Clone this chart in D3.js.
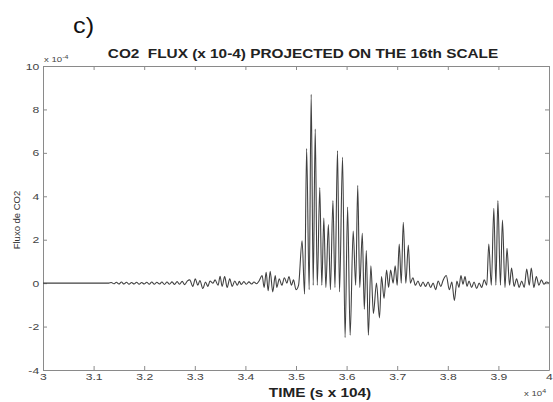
<!DOCTYPE html>
<html>
<head>
<meta charset="utf-8">
<script src="https://cdn.jsdelivr.net/npm/d3@7"></script>
<style>
  body { margin: 0; background: #fff; }
  svg { display: block; font-family: "Liberation Sans", Arial, sans-serif; }
</style>
</head>
<body>
<script>
// time in units of 10^4 s, flux in units of 10^-4 (peaks and troughs)
const time = [
  3.000, 3.130,
  3.135, 3.140, 3.145, 3.150, 3.155, 3.160, 3.165, 3.170, 3.175, 3.180, 3.185, 3.190, 3.195, 3.200,
  3.205, 3.210, 3.215, 3.220, 3.225, 3.230, 3.235, 3.240, 3.245, 3.250, 3.255, 3.260, 3.265, 3.270,
  3.275, 3.280, 3.285,
  3.290, 3.296, 3.301, 3.306, 3.310, 3.316, 3.321, 3.326, 3.330, 3.336, 3.340, 3.346, 3.350, 3.354,
  3.359, 3.364, 3.369, 3.374, 3.379, 3.384, 3.388, 3.392, 3.397, 3.402, 3.407, 3.412, 3.417, 3.422, 3.427,
  3.433, 3.437, 3.441, 3.445, 3.449, 3.454, 3.459, 3.462, 3.467, 3.472, 3.477, 3.482, 3.486, 3.491,
  3.495, 3.500, 3.505,
  3.512, 3.517, 3.521, 3.526, 3.530, 3.534, 3.538, 3.542, 3.547, 3.551, 3.555, 3.559, 3.564, 3.568,
  3.573, 3.577, 3.582, 3.586, 3.592, 3.597, 3.602, 3.607, 3.613, 3.618, 3.622, 3.626, 3.631, 3.635,
  3.639, 3.643, 3.648, 3.653, 3.659, 3.665, 3.669, 3.674, 3.679, 3.683, 3.687, 3.692, 3.696, 3.700,
  3.704, 3.708, 3.712, 3.717, 3.722, 3.726, 3.731, 3.736,
  3.741, 3.746, 3.751, 3.756, 3.761, 3.766, 3.771, 3.776, 3.781, 3.786, 3.791, 3.797, 3.803, 3.808,
  3.813, 3.818, 3.822, 3.826, 3.830, 3.834, 3.838, 3.842, 3.847, 3.852, 3.857, 3.862, 3.867, 3.872, 3.877,
  3.881, 3.886, 3.891, 3.895, 3.899, 3.904, 3.908, 3.913, 3.917, 3.922, 3.926, 3.931, 3.936, 3.941,
  3.946, 3.951, 3.956, 3.961, 3.965, 3.970, 3.975, 3.980, 3.985, 3.990, 3.995, 4.000
];
const flux = [
  0, 0,
  0.03, -0.03, 0.04, -0.04, 0.05, -0.04, 0.04, -0.05, 0.03, -0.04, 0.04, -0.05, 0.03, -0.04,
  0.04, -0.05, 0.05, -0.05, 0.04, -0.04, 0.05, -0.06, 0.05, -0.05, 0.06, -0.06, 0.07, -0.05,
  0.08, -0.07, 0.09,
  0.15, -0.15, 0.2, -0.1, 0.12, -0.25, 0.05, -0.15, 0.1, 0.0, 0.15, -0.1, 0.32, -0.15,
  0.3, -0.2, 0.2, -0.15, 0.1, -0.1, 0.08, -0.06, 0.07, -0.05, 0.06, -0.04, 0.05, -0.03, 0.1,
  0.35, -0.2, 0.5, -0.35, 0.55, -0.4, 0.35, -0.2, 0.2, -0.1, 0.25, 0.0, 0.3, -0.1,
  0.15, -0.3, -0.1,
  1.95, -0.5, 6.2, -0.3, 8.7, -0.1, 7.1, -0.1, 4.4, -0.1, 3.0, -0.2, 2.7, -0.3,
  3.8, -0.2, 6.1, -0.4, 5.8, -2.5, 3.5, -2.4, 2.4, -0.1, 4.5, -0.2, 2.3, -1.2,
  1.5, -2.4, 0.8, -1.4, 0.0, -1.6, 0.3, -0.7, 0.6, -0.2, 0.6, 0.0, 0.8, -0.1,
  1.8, 0.0, 2.8, 0.0, 1.75, 0.0, 0.25, -0.1,
  0.1, -0.15, 0.05, -0.15, 0.05, -0.2, 0.0, -0.3, 0.1, -0.15, 0.15, 0.35, -0.3, 0.05,
  -0.8, 0.1, -0.2, 0.35, -0.05, 0.3, -0.15, 0.1, -0.2, 0.05, -0.25, 0.0, -0.2, 0.15, -0.1,
  1.8, -0.1, 3.45, -0.1, 3.8, -0.1, 2.9, -0.2, 1.6, -0.1, 0.7, -0.15, 0.2, -0.2,
  0.1, -0.2, 0.65, -0.1, 0.7, -0.2, 0.3, -0.1, 0.15, -0.05, 0.05, 0
];
const xTicks = [3, 3.1, 3.2, 3.3, 3.4, 3.5, 3.6, 3.7, 3.8, 3.9, 4];
const xTickLabels = ["3", "3.1", "3.2", "3.3", "3.4", "3.5", "3.6", "3.7", "3.8", "3.9", "4"];
const yTicks = [-4, -2, 0, 2, 4, 6, 8, 10];
const yTickLabels = ["-4", "-2", "0", "2", "4", "6", "8", "10"];

const points = time.map((t, i) => ({ t: t, v: flux[i] }));

const width = 553, height = 402;
const margin = { top: 66, right: 4, bottom: 32, left: 43 };
const stretch = 1.28; // the original figure is drawn a bit wide

const svg = d3.select("body").append("svg")
    .attr("width", width)
    .attr("height", height);

const x = d3.scaleLinear().domain([3, 4]).range([margin.left, width - margin.right]);
const y = d3.scaleLinear().domain([-4, 10]).range([height - margin.bottom, margin.top]);

// axes, MATLAB style box with inward ticks
const axisColor = "#8a8a8a";
function styleAxis(g) {
  g.selectAll("path, line").attr("stroke", axisColor);
  g.selectAll("text").attr("fill", "#444").style("font-size", "9.5px");
}

const xAxisG = svg.append("g")
    .attr("transform", `translate(0,${y(-4)})`)
    .call(d3.axisBottom(x).tickValues(xTicks).tickFormat((d, i) => xTickLabels[i]).tickSizeInner(-4).tickSizeOuter(0).tickPadding(3))
    .call(styleAxis);
xAxisG.selectAll(".tick text").attr("transform", `scale(${stretch},1)`);

svg.append("g")
    .attr("transform", `translate(0,${y(10)})`)
    .call(d3.axisTop(x).tickValues(xTicks).tickFormat("").tickSizeInner(-4).tickSizeOuter(0))
    .call(styleAxis);

const yAxisG = svg.append("g")
    .attr("transform", `translate(${x(3)},0)`)
    .call(d3.axisLeft(y).tickValues(yTicks).tickFormat((d, i) => yTickLabels[i]).tickSizeInner(-4).tickSizeOuter(0).tickPadding(3))
    .call(styleAxis);
yAxisG.selectAll(".tick text").attr("transform", `scale(${stretch},1)`);

svg.append("g")
    .attr("transform", `translate(${x(4)},0)`)
    .call(d3.axisRight(y).tickValues(yTicks).tickFormat("").tickSizeInner(-4).tickSizeOuter(0))
    .call(styleAxis);

// signal
const line = d3.line()
    .x(d => x(d.t))
    .y(d => y(d.v))
    .curve(d3.curveMonotoneX);

svg.append("path")
    .datum(points)
    .attr("fill", "none")
    .attr("stroke", "#404040")
    .attr("stroke-width", 1.1)
    .attr("d", line);

// texts
svg.append("text")
    .attr("transform", "translate(73,33) scale(1.15,1)")
    .style("font-size", "22px")
    .attr("fill", "#111")
    .text("c)");

svg.append("text")
    .attr("transform", `translate(303,58) scale(${stretch},1)`)
    .attr("text-anchor", "middle")
    .style("font-size", "12px").style("font-weight", "bold")
    .style("white-space", "pre")
    .attr("fill", "#222")
    .text("CO2  FLUX (x 10-4) PROJECTED ON THE 16th SCALE");

const expTop = svg.append("text")
    .attr("transform", `translate(${x(3) + 1},62) scale(${stretch},1)`)
    .style("font-size", "7.5px").attr("fill", "#444");
expTop.append("tspan").text("x 10");
expTop.append("tspan").attr("dy", -3).style("font-size", "5.5px").text("-4");

const expBottom = svg.append("text")
    .attr("transform", `translate(524,396) scale(${stretch},1)`)
    .style("font-size", "7.5px").attr("fill", "#444");
expBottom.append("tspan").text("x 10");
expBottom.append("tspan").attr("dy", -3).style("font-size", "5.5px").text("4");

svg.append("text")
    .attr("transform", `translate(320,397) scale(${stretch},1)`)
    .attr("text-anchor", "middle")
    .style("font-size", "12px").style("font-weight", "bold")
    .attr("fill", "#222")
    .text("TIME (s x 104)");

svg.append("text")
    .attr("transform", "translate(20,220) rotate(-90)")
    .attr("text-anchor", "middle")
    .style("font-size", "9.5px")
    .attr("fill", "#333")
    .text("Fluxo de CO2");
</script>
</body>
</html>
